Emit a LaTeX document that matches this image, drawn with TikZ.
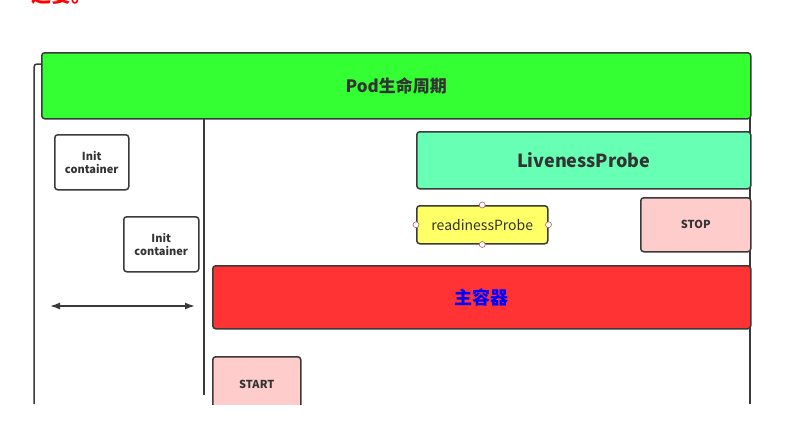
\documentclass[tikz,border=0pt]{standalone}
\usepackage{fontspec}
\setmainfont{Noto Sans CJK SC}
\newfontfamily\cjk{Noto Sans CJK SC}
\usetikzlibrary{arrows.meta}
\definecolor{edge}{HTML}{3A3A3A}
\definecolor{txt}{HTML}{333333}
\definecolor{podgreen}{HTML}{33FF33}
\definecolor{livgreen}{HTML}{66FFB3}
\definecolor{readyel}{HTML}{FFFF66}
\definecolor{pinkbox}{HTML}{FFCCCC}
\definecolor{mainred}{HTML}{FF3333}
\definecolor{handle}{HTML}{B06060}
\tikzset{
  box/.style={draw=edge, line width=1.5pt, rounded corners=3pt, text=txt, align=center, inner sep=0pt},
  hnd/.style={circle, draw=handle, fill=white, line width=0.6pt, minimum size=6pt, inner sep=0pt},
  ln/.style={draw=edge, line width=1.5pt}
}
\begin{document}
\begin{tikzpicture}[x=1pt,y=-1pt]
\useasboundingbox (0,0) rectangle (806,421);
\fill[white] (0,0) rectangle (806,421);
% clipped red text at top
\node[anchor=south west, text=red, font=\cjk\bfseries\fontsize{20}{22}\selectfont, inner sep=0pt] (hdr) at (31,5) {这要。};
\begin{scope}
\clip (0,0) rectangle (806,404);
% outer frame
\draw[ln, rounded corners=3pt] (34,404) -- (34,64) -- (44,64);
\draw[ln] (750,60) -- (750,404);
% divider
\coordinate (dtop) at (204,118);
\coordinate (dbot) at (204,395);
\draw[ln] (dtop) -- (dbot);
% green bar
\node[box, fill=podgreen, minimum width=709pt, minimum height=66pt, anchor=north west, font=\bfseries\fontsize{17}{20}\selectfont] (pod) at (41,52) {Pod生命周期};
% init containers
\node[box, fill=white, minimum width=74pt, minimum height=55pt, anchor=north west, font=\bfseries\fontsize{11}{13}\selectfont] (init1) at (54,134) {Init\\container};
\node[box, fill=white, minimum width=75pt, minimum height=55pt, anchor=north west, font=\bfseries\fontsize{11}{13}\selectfont] (init2) at (123,216) {Init\\container};
% double arrow
\coordinate (al) at (50,306);
\coordinate (ar) at (195,306);
\draw[ln, {Latex[length=10pt,width=7pt]}-{Latex[length=10pt,width=7pt]}] (al) -- (ar);
% liveness
\node[box, fill=livgreen, minimum width=334pt, minimum height=57pt, anchor=north west, font=\bfseries\fontsize{18}{21}\selectfont] (live) at (416,131) {LivenessProbe};
% readiness
\node[box, fill=readyel, minimum width=131pt, minimum height=38pt, anchor=north west, font=\fontsize{14}{16}\selectfont] (ready) at (416,205) {readinessProbe};
\node[hnd] (h1) at (ready.north) {};
\node[hnd] (h2) at (ready.south) {};
\node[hnd] (h3) at (ready.west) {};
\node[hnd] (h4) at (ready.east) {};
% stop
\node[box, fill=pinkbox, minimum width=110pt, minimum height=54pt, anchor=north west, font=\bfseries\fontsize{11}{13}\selectfont] (stop) at (640,197) {STOP};
% main container
\node[box, fill=mainred, minimum width=538pt, minimum height=63pt, anchor=north west, text=blue, font=\bfseries\fontsize{18}{21}\selectfont] (main) at (212,265) {主容器};
% start
\node[box, fill=pinkbox, minimum width=88pt, minimum height=56pt, anchor=north west, font=\bfseries\fontsize{11}{13}\selectfont] (start) at (212,356) {START};
\end{scope}
\end{tikzpicture}
\end{document}
